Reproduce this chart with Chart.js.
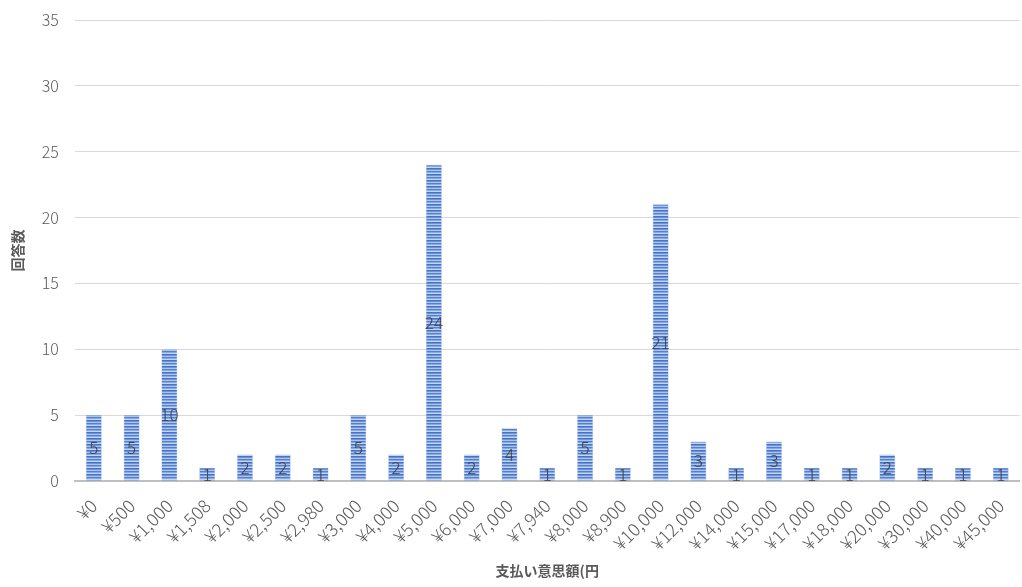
<!DOCTYPE html>
<html><head><meta charset="utf-8">
<script src="https://cdn.jsdelivr.net/npm/chart.js@4.4.1/dist/chart.umd.min.js"></script>
<style>html,body{margin:0;padding:0;background:#fff}#w{width:1022px;height:587px}</style>
</head><body><div id="w"><canvas id="c"></canvas></div>
<script>
const categories = ["¥0","¥500","¥1,000","¥1,508","¥2,000","¥2,500","¥2,980","¥3,000","¥4,000","¥5,000","¥6,000","¥7,000","¥7,940","¥8,000","¥8,900","¥10,000","¥12,000","¥14,000","¥15,000","¥17,000","¥18,000","¥20,000","¥30,000","¥40,000","¥45,000"];
const counts = [5,5,10,1,2,2,1,5,2,24,2,4,1,5,1,21,3,1,3,1,1,2,1,1,1];
const yTicks = [0,5,10,15,20,25,30,35];
const xTitle = "支払い意思額(円";
const yTitle = "回答数";

function makePattern(){
  const p = document.createElement('canvas'); p.width = 4; p.height = 6;
  const g = p.getContext('2d');
  const rows = ['#4472c4','#6d93da','#adc4ec','#5381d1','#8aa8e1','#c6d6f2'];
  rows.forEach((c,i)=>{g.fillStyle=c; g.fillRect(0,i,4,1);});
  return g.createPattern(p,'repeat');
}
const cg = document.getElementById('c').getContext('2d');
const pattern = makePattern();

const labelPlugin = {
  id:'vals',
  afterDatasetsDraw(chart){
    const ctx = chart.ctx;
    const meta = chart.getDatasetMeta(0);
    ctx.save();
    ctx.font = '300 17px "Noto Sans CJK JP", sans-serif';
    ctx.fillStyle = '#404040';
    ctx.textAlign = 'center'; ctx.textBaseline = 'middle';
    meta.data.forEach((el,i)=>{
      ctx.fillText(String(counts[i]), el.x, (el.y+el.base)/2);
    });
    ctx.restore();
  }
};

new Chart(cg, {
  type:'bar',
  data:{labels:categories, datasets:[{data:counts, backgroundColor:pattern, borderColor:'#9fb7e3', borderWidth:0.5, barPercentage:0.42, categoryPercentage:1.0}]},
  options:{
    responsive:true, maintainAspectRatio:false, animation:false,
    layout:{padding:{left:9,right:0,top:18,bottom:5}},
    plugins:{legend:{display:false}, tooltip:{enabled:false}},
    scales:{
      x:{
        grid:{display:false},
        border:{color:'#bfbfbf', width:2},
        ticks:{color:'#595959', font:{family:'"Noto Sans CJK JP", sans-serif', size:18, weight:'300'}, maxRotation:45, minRotation:45, autoSkip:false, padding:6},
        title:{display:true, text:xTitle, color:'#595959', font:{family:'"Noto Sans CJK JP", sans-serif', size:14, weight:'bold'}, padding:{top:2,bottom:3}}
      },
      y:{
        min:0, max:35,
        afterBuildTicks(ax){ ax.ticks = yTicks.map(v=>({value:v})); },
        grid:{color:'#d9d9d9', drawTicks:false},
        border:{display:false},
        ticks:{color:'#595959', font:{family:'"Noto Sans CJK JP", sans-serif', size:16, weight:'300', lineHeight:0.5}, padding:16},
        title:{display:true, text:yTitle, color:'#595959', font:{family:'"Noto Sans CJK JP", sans-serif', size:14, weight:'bold'}, padding:{top:0,bottom:0}}
      }
    }
  },
  plugins:[labelPlugin]
});
</script></body></html>
